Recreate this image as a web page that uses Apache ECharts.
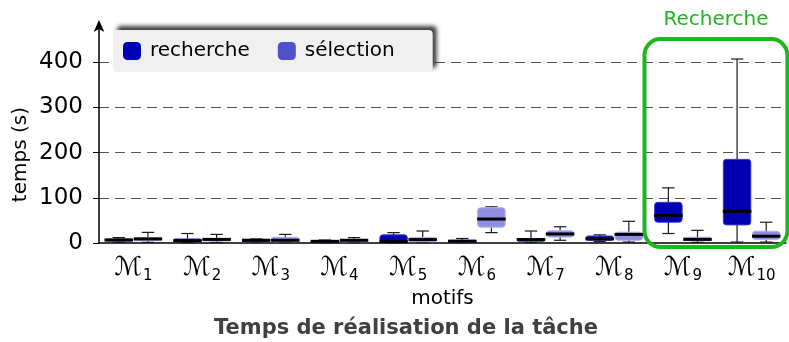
<!DOCTYPE html>
<html>
<head>
<meta charset="utf-8">
<script src="https://cdn.jsdelivr.net/npm/echarts@6/dist/echarts.min.js"></script>
<style>
html,body{margin:0;padding:0;background:#fff;}
#c{width:789px;height:342px;}
</style>
</head>
<body>
<div id="c"></div>
<script>
// categories (motifs)
const categories = ['ℳ1','ℳ2','ℳ3','ℳ4','ℳ5','ℳ6','ℳ7','ℳ8','ℳ9','ℳ10'];
const seriesNames = ['recherche', 'sélection'];
const yTicks = [0, 100, 200, 300, 400];
// five-number summaries [min, q1, median, q3, max] in seconds
const recherche = [
  [1.5, 4.4, 6.6, 9, 12],
  [1, 3, 5, 9, 21],
  [2, 3, 6, 8, 9],
  [0.5, 1.5, 3.7, 4.4, 6.6],
  [0.5, 1, 3, 18, 23],
  [1, 2, 4, 6, 10],
  [1, 4, 7.5, 10, 26.5],
  [3, 6, 9, 15.5, 18],
  [21, 46, 61, 90, 122],
  [2, 40, 70, 185, 407]
];
const selection = [
  [1.5, 5, 9, 12, 23.5],
  [1.5, 4.4, 8, 10, 19],
  [1, 3, 6, 12.6, 19],
  [1, 3, 6, 8, 12],
  [1, 3, 7.5, 12, 26.5],
  [23, 35, 53, 78, 80],
  [6, 13, 20, 27, 36],
  [2, 6, 19, 24, 48],
  [1.5, 5, 8, 12.6, 28],
  [2, 8, 15, 26, 46]
];
const highlightLabel = 'Recherche';

const FONT = 'DejaVu Sans';
const chart = echarts.init(document.getElementById('c'), null, {renderer: 'canvas'});

function makeRender(offsetFrac, widthFrac, fill, stroke) {
  return function (params, api) {
    const xi = api.value(0);
    const band = api.size([1, 0])[0];
    const base = api.coord([xi, 0]);
    const cx = base[0] + offsetFrac * band;
    const w = widthFrac * band;
    const yMin = api.coord([xi, api.value(1)])[1];
    const yQ1 = api.coord([xi, api.value(2)])[1];
    const yMed = api.coord([xi, api.value(3)])[1];
    const yQ3 = api.coord([xi, api.value(4)])[1];
    const yMax = api.coord([xi, api.value(5)])[1];
    const cap = w * 0.45;
    const lineStyle = {stroke: '#1a1a1a', lineWidth: 1.2};
    return {
      type: 'group',
      children: [
        {type: 'line', shape: {x1: cx, y1: yMax, x2: cx, y2: yMin}, style: lineStyle},
        {type: 'line', shape: {x1: cx - cap / 2, y1: yMax, x2: cx + cap / 2, y2: yMax}, style: lineStyle},
        {type: 'line', shape: {x1: cx - cap / 2, y1: yMin, x2: cx + cap / 2, y2: yMin}, style: lineStyle},
        {type: 'rect', shape: {x: cx - w / 2, y: yQ3, width: w, height: Math.max(yQ1 - yQ3, 1), r: 3},
          style: {fill: fill, stroke: stroke, lineWidth: 1}},
        {type: 'line', shape: {x1: cx - w / 2 - 0.5, y1: yMed, x2: cx + w / 2 + 0.5, y2: yMed},
          style: {stroke: '#000', lineWidth: 3}}
      ]
    };
  };
}

function toData(arr) {
  return arr.map((d, i) => [i].concat(d));
}

const option = {
  animation: false,
  backgroundColor: '#fff',
  textStyle: {fontFamily: FONT},
  title: {
    text: 'Temps de réalisation de la tâche',
    left: 401, textAlign: 'center', top: 313,
    textStyle: {fontFamily: FONT, fontSize: 21, fontWeight: 'bold', color: '#404040'}
  },
  legend: {
    data: [
      {name: seriesNames[0], itemStyle: {color: '#0000b4'}},
      {name: seriesNames[1], itemStyle: {color: '#5050cc'}}
    ],
    left: 113, top: 30,
    padding: [11, 38, 11, 10],
    itemGap: 28,
    itemWidth: 18, itemHeight: 18,
    icon: 'roundRect',
    backgroundColor: '#f0f0f0',
    borderRadius: 4,
    shadowColor: 'rgba(0,0,0,0.75)',
    shadowBlur: 4,
    shadowOffsetX: 4,
    shadowOffsetY: -4,
    textStyle: {fontFamily: FONT, fontSize: 20, color: '#000', padding: [0, 0, 0, 4]}
  },
  grid: {left: 99, right: 3, top: 26, bottom: 99, containLabel: false},
  xAxis: {
    type: 'category',
    data: categories,
    name: 'motifs',
    nameLocation: 'middle',
    nameGap: 38,
    nameTextStyle: {fontFamily: FONT, fontSize: 20, color: '#000'},
    axisLine: {lineStyle: {color: '#000', width: 1.5}},
    axisTick: {show: false},
    axisLabel: {
      interval: 0,
      margin: 12,
      formatter: function (v) {
        return '{m|' + v.charAt(0) + '}{s|' + v.slice(1) + '}';
      },
      rich: {
        m: {fontFamily: FONT, fontSize: 26, color: '#000'},
        s: {fontFamily: FONT, fontSize: 15, color: '#000', verticalAlign: 'bottom', padding: [0, 0, -3, 1]}
      }
    },
    splitLine: {show: false}
  },
  yAxis: {
    type: 'value',
    min: 0, max: 480, interval: 100,
    axisLine: {show: true, symbol: ['none', 'arrow'], symbolSize: [8, 12], symbolOffset: [0, 6],
      lineStyle: {color: '#000', width: 1.5}},
    axisTick: {show: true, inside: false, length: 6, customValues: yTicks, lineStyle: {color: '#000', width: 1}},
    axisLabel: {customValues: yTicks, margin: 16, fontFamily: FONT, fontSize: 23, color: '#000'},
    splitLine: {show: true, showMinLine: false,
      lineStyle: {color: '#555', type: [10, 6], width: 1.2}}
  },
  series: [
    {
      name: seriesNames[0], type: 'custom',
      itemStyle: {color: '#0000b4'},
      renderItem: makeRender(-0.212, 0.40, '#0000b0', '#3a3ac8'),
      encode: {x: 0, y: [1, 2, 3, 4, 5]},
      data: toData(recherche),
      z: 3
    },
    {
      name: seriesNames[1], type: 'custom',
      itemStyle: {color: '#5050cc'},
      renderItem: makeRender(0.212, 0.40, 'rgb(142,142,224)', 'rgb(175,175,238)'),
      encode: {x: 0, y: [1, 2, 3, 4, 5]},
      data: toData(selection),
      z: 3
    }
  ]
};
chart.setOption(option);

// y-axis name (rotated) and highlight frame around the last two motifs
const band = chart.convertToPixel({xAxisIndex: 0}, 1) - chart.convertToPixel({xAxisIndex: 0}, 0);
const x9 = chart.convertToPixel({xAxisIndex: 0}, 8);
const x10 = chart.convertToPixel({xAxisIndex: 0}, 9);
const yTop = chart.convertToPixel({yAxisIndex: 0}, 451);
const yBot = chart.convertToPixel({yAxisIndex: 0}, -9);
const xL = x9 - 0.56 * band;
const xR = x10 + 0.52 * band;
chart.setOption({
  graphic: [
    {type: 'text', x: 21, y: chart.convertToPixel({yAxisIndex: 0}, 200) + 2, rotation: Math.PI / 2,
      style: {text: 'temps (s)', font: '20px "DejaVu Sans"', fill: '#000', textAlign: 'center', textVerticalAlign: 'middle'}},
    {type: 'rect', z: 10, shape: {x: xL, y: yTop, width: xR - xL, height: yBot - yTop, r: 16},
      style: {fill: 'none', stroke: '#1fb51f', lineWidth: 4}},
    {type: 'text', z: 10, x: (xL + xR) / 2, y: yTop - 9,
      style: {text: highlightLabel, font: '20px "DejaVu Sans"', fill: '#1fb51f', textAlign: 'center', textVerticalAlign: 'bottom'}}
  ]
});
</script>
</body>
</html>
